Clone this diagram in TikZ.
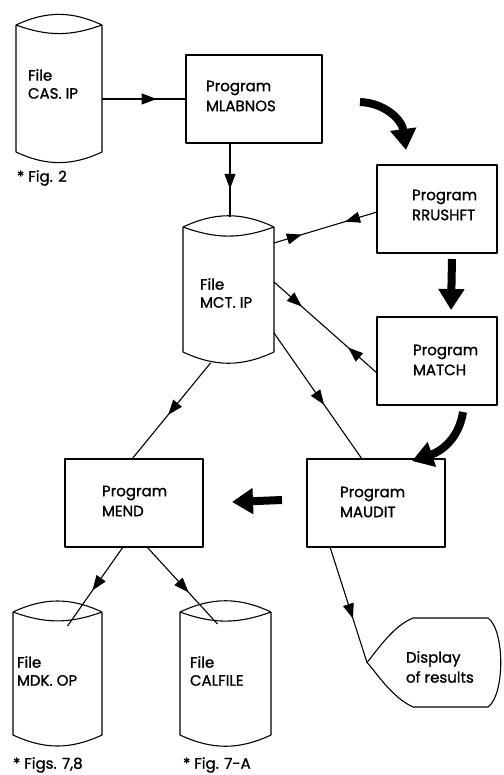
\documentclass[tikz,border=0pt]{standalone}
\usepackage{fontspec}
\setmainfont{Poppins}[FakeBold=1.2]
\usetikzlibrary{arrows.meta,decorations.markings,calc}

\tikzset{
  x=1pt, y=-1pt,
  every node/.style={inner sep=0pt, outer sep=0pt},
  outline/.style={line width=1.1pt, line join=round},
  progbox/.style={draw, outline, rectangle},
  filebody/.style={rectangle, draw=none},
  boxtext/.style={font=\fontsize{15}{20}\selectfont, align=left, anchor=west},
  filetext/.style={font=\fontsize{15}{18}\selectfont, align=left, anchor=west},
  note/.style={font=\fontsize{15}{18}\selectfont, anchor=west},
  flow/.style={line width=1.1pt},
  headtip/.tip={Triangle[length=15pt,width=11pt]},
  onearrow/.style={flow, postaction={decorate},
    decoration={markings, mark=at position #1 with {\arrow{headtip}}}},
  twoarrows/.style 2 args={flow, postaction={decorate},
    decoration={markings,
      mark=at position #1 with {\arrow{headtip}},
      mark=at position #2 with {\arrowreversed{headtip}}}},
  bigarrow/.style={line width=8pt, -{Triangle[length=21pt,width=25pt]}},
}

% file symbol drawn around a named rectangle node
\newcommand\filesymbol[1]{%
  \draw[outline] (#1.north west) to[bend left=25] (#1.north east)
                 (#1.north west) to[bend right=20] (#1.north east)
                 (#1.north west) -- (#1.south west) to[bend right=25] (#1.south east) -- (#1.north east);
}

\begin{document}
\begin{tikzpicture}
\useasboundingbox (0,0) rectangle (503,775);

% ---- file symbols
\node[filebody, minimum width=86pt, minimum height=127pt] (cas) at (59,88.5) {};
\filesymbol{cas}
\node[filebody, minimum width=91pt, minimum height=125pt] (mct) at (228.5,289.5) {};
\filesymbol{mct}
\node[filebody, minimum width=89pt, minimum height=123pt] (mdk) at (57.5,673.5) {};
\filesymbol{mdk}
\node[filebody, minimum width=91pt, minimum height=123pt] (calf) at (225.5,673.5) {};
\filesymbol{calf}

\node[filetext] (tcas) at (28,84) {File\\CAS. IP};
\node[filetext] (tmct) at (200,293) {File\\MCT. IP};
\node[filetext] (tmdk) at (17,671) {File\\MDK. OP};
\node[filetext] (tcalf) at (190,671) {File\\CALFILE};

\node[note] (fcas) at (17,178) {* Fig. 2};
\node[note] (fmdk) at (13,765) {* Figs. 7,8};
\node[note] (fcalf) at (183,765) {* Fig. 7-A};

% ---- program boxes
\node[progbox, minimum width=136pt, minimum height=88pt] (mlab) at (254,99) {};
\node[progbox, minimum width=120pt, minimum height=88pt] (rrush) at (437,209) {};
\node[progbox, minimum width=120pt, minimum height=88pt] (match) at (437,361) {};
\node[progbox, minimum width=138pt, minimum height=88pt] (maudit) at (376,503) {};
\node[progbox, minimum width=138pt, minimum height=88pt] (mend) at (134,503) {};

\node[boxtext] (tmlab) at (206,96) {Program\\MLABNOS};
\node[boxtext] (trrush) at (412,205) {Program\\RRUSHFT};
\node[boxtext] (tmatch) at (413,360) {Program\\MATCH};
\node[boxtext] (tmaudit) at (340,502) {Program\\MAUDIT};
\node[boxtext] (tmend) at (102,501) {Program\\MEND};

% ---- display symbol
\node[rectangle, draw=none, minimum width=134pt, minimum height=89pt] (disp) at (434,662.5) {};
\draw[outline] ([xshift=46pt]disp.north west) -- ([xshift=-13pt]disp.north east)
  .. controls ([xshift=4pt,yshift=-12pt]disp.north east) and ([xshift=4pt,yshift=12pt]disp.south east)
  .. ([xshift=-13pt]disp.south east) -- ([xshift=46pt]disp.south west)
  .. controls ([xshift=24pt,yshift=10pt]disp.south west) and ([xshift=8pt,yshift=-8pt]disp.west)
  .. (disp.west)
  .. controls ([xshift=10pt,yshift=12pt]disp.west) and ([xshift=26pt,yshift=-8pt]disp.north west)
  .. cycle;
\node[boxtext] (tdisp) at (406,667) {Display\\of results};

% ---- connectors
\draw[onearrow=0.65] (cas.east |- mlab.west) -- (mlab.west);
\draw[onearrow=0.62] (mlab.south) ++(-24pt,0) coordinate (mlabout) -- ([yshift=10pt]mct.north -| mlabout);
\draw[twoarrows={0.27}{0.69}] ([yshift=-16pt]mct.north east) -- ([yshift=-3pt]rrush.west);
\draw[twoarrows={0.27}{0.72}] ([yshift=-55pt]mct.north east) -- ([yshift=-12pt]match.west);
\draw[onearrow=0.57] ([yshift=-106pt]mct.north east) -- ([xshift=-14pt]maudit.north);
\draw[onearrow=0.54] ([xshift=-18pt,yshift=-11pt]mct.south) -- ([xshift=-2pt]mend.north);
\draw[onearrow=0.55] ([xshift=-11pt]mend.south) -- ([xshift=10pt,yshift=-14pt]mdk.north);
\draw[onearrow=0.59] ([xshift=13pt]mend.south) -- ([xshift=-8pt,yshift=-12pt]calf.north);
\draw[onearrow=0.62] ([xshift=-46pt]maudit.south) -- (disp.west);

% ---- heavy flow arrows between the programs
\coordinate (a1s) at (360,102);
\coordinate (a1e) at (406,150);
\draw[bigarrow] (a1s) .. controls (385,103) and (402,120) .. (a1e);
\coordinate (a2s) at (452,259);
\coordinate (a2e) at (451,310);
\draw[bigarrow] (a2s) -- (a2e);
\coordinate (a3s) at (463,412);
\coordinate (a3e) at (412,461);
\draw[bigarrow] (a3s) .. controls (459,438) and (442,451) .. (a3e);
\coordinate (a4s) at (282,500);
\coordinate (a4e) at (232,502);
\draw[bigarrow] (a4s) -- (a4e);
\end{tikzpicture}
\end{document}
